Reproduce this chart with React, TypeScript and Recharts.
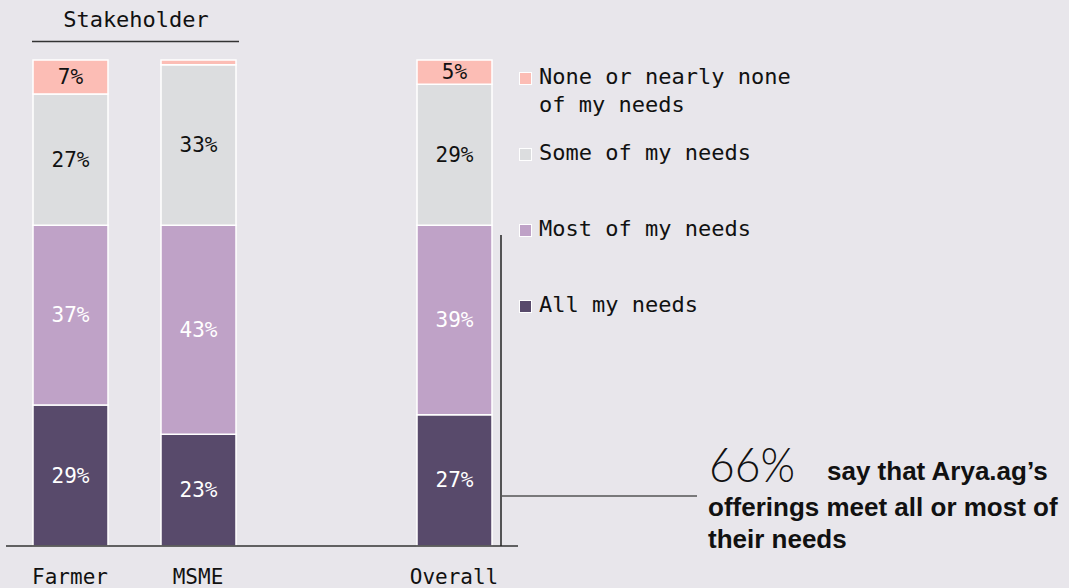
import React from 'react';
import { BarChart, Bar, XAxis, YAxis, LabelList } from 'recharts';

const categories = ['Farmer', 'MSME', '', 'Overall'];
const allNeeds = [29, 23, null, 27];
const mostNeeds = [37, 43, null, 39];
const someNeeds = [27, 33, null, 29];
const noneNeeds = [7, 1, null, 5];

const SERIES = [
  { key: 'all', name: 'All my needs', values: allNeeds, color: '#584a6b', text: '#ffffff' },
  { key: 'most', name: 'Most of my needs', values: mostNeeds, color: '#bfa2c7', text: '#ffffff' },
  { key: 'some', name: 'Some of my needs', values: someNeeds, color: '#dcdddf', text: '#111111' },
  { key: 'none', name: 'None or nearly none\nof my needs', values: noneNeeds, color: '#fcbdb5', text: '#111111' },
];

const data = categories.map((name, i) => {
  const row: Record<string, any> = { name };
  SERIES.forEach((s) => {
    row[s.key] = s.values[i];
  });
  return row;
});

const MONO = '"DejaVu Sans Mono", "Liberation Mono", monospace';
const SANS = '"Liberation Sans", Arial, sans-serif';
const BG = '#e8e6eb';

// labels sit in the middle of each segment; tiny slivers get none
const makeLabel = (fill: string) => (props: any) => {
  const { x, y, width, height, value } = props;
  if (value == null || value < 3) return null;
  return (
    <text
      x={x + width / 2}
      y={y + height / 2}
      textAnchor="middle"
      dominantBaseline="central"
      fill={fill}
      fontFamily={MONO}
      fontSize={21}
    >
      {`${value}%`}
    </text>
  );
};

const LegendBox = () => (
  <div
    style={{
      position: 'absolute',
      left: 519,
      top: 63,
      fontFamily: MONO,
      fontSize: 22,
      color: '#111',
    }}
  >
    {[...SERIES].reverse().map((s) => (
      <div key={s.key} style={{ height: 76, display: 'flex', alignItems: 'flex-start' }}>
        <span
          style={{
            width: 11,
            height: 11,
            background: s.color,
            border: '1px solid #fff',
            marginTop: 9,
            marginRight: 7,
            flexShrink: 0,
          }}
        />
        <span style={{ lineHeight: '28px', whiteSpace: 'pre' }}>{s.name}</span>
      </div>
    ))}
  </div>
);

export default function App() {
  return (
    <div
      style={{
        position: 'fixed',
        left: 0,
        top: 0,
        width: 1069,
        height: 588,
        background: BG,
        overflow: 'hidden',
      }}
    >
      <BarChart
        width={1069}
        height={588}
        data={data}
        margin={{ top: 60, right: 551, bottom: 12, left: 6 }}
      >
        <XAxis
          dataKey="name"
          height={30}
          axisLine={{ stroke: '#333', strokeWidth: 1.5 }}
          tickLine={false}
          tick={{ fill: '#111', fontFamily: MONO, fontSize: 21 }}
          tickMargin={17}
          interval={0}
        />
        <YAxis hide domain={[0, 100]} />
        {SERIES.map((s) => (
          <Bar
            key={s.key}
            dataKey={s.key}
            name={s.name}
            stackId="a"
            fill={s.color}
            stroke="#ffffff"
            strokeWidth={1.5}
            barSize={75}
            isAnimationActive={false}
          >
            <LabelList dataKey={s.key} content={makeLabel(s.text)} />
          </Bar>
        ))}
      </BarChart>
      <LegendBox />
      <svg
        width={1069}
        height={588}
        style={{ position: 'absolute', left: 0, top: 0, pointerEvents: 'none' }}
      >
        <text x={136} y={27} textAnchor="middle" fontFamily={MONO} fontSize={22} fill="#111">
          Stakeholder
        </text>
        <line x1={32} x2={239} y1={41.5} y2={41.5} stroke="#333" strokeWidth={1.5} />
        <line x1={501} x2={501} y1={235} y2={546} stroke="#222" strokeWidth={1.5} />
        <line x1={501} x2={697} y1={496} y2={496} stroke="#555" strokeWidth={1.5} />
        <text
          x={709}
          y={482}
          fontFamily='Lato, "Liberation Sans", sans-serif'
          fontSize={48}
          fontWeight={300}
          fill="#111"
          textLength={86}
          lengthAdjust="spacingAndGlyphs"
        >
          66%
        </text>
        <text x={827} y={480} fontFamily={SANS} fontSize={26} fontWeight={700} fill="#111">
          say that Arya.ag’s
        </text>
        <text x={708} y={516} fontFamily={SANS} fontSize={26} fontWeight={700} fill="#111">
          offerings meet all or most of
        </text>
        <text x={708} y={548} fontFamily={SANS} fontSize={26} fontWeight={700} fill="#111">
          their needs
        </text>
      </svg>
    </div>
  );
}
